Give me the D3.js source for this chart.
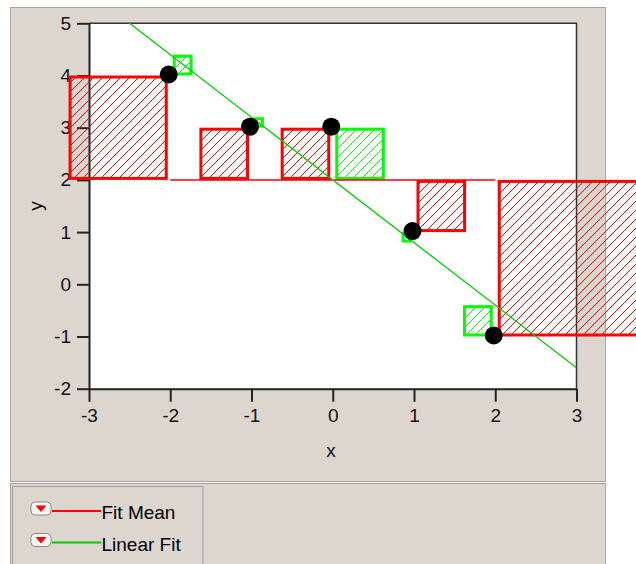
<!DOCTYPE html>
<html><head><meta charset="utf-8">
<script src="https://cdn.jsdelivr.net/npm/d3@7"></script>
<style>body{margin:0;background:#fff}svg{display:block;font-family:"Liberation Sans",Arial,sans-serif}</style>
</head><body><svg id="c" width="636" height="564"></svg>
<script>
// ---- data ----
const xValues = [-2, -1, 0, 1, 2];
const yValues = [4, 3, 3, 1, -1];
const xTickValues = [-3, -2, -1, 0, 1, 2, 3];
const yTickValues = [-2, -1, 0, 1, 2, 3, 4, 5];
const meanValue = 2;        // Fit Mean
const fitIntercept = 2;     // Linear Fit: y = 2 - 1.2x
const fitSlope = -1.2;
const legendLabels = ["Fit Mean", "Linear Fit"];
const xTitle = "x", yTitle = "y";

// ---- setup ----
const svg = d3.select("#c");
const plot = {left: 89, right: 576.5, top: 23.3, bottom: 388.7};
const x = d3.scaleLinear().domain([-3, 3]).range([plot.left, plot.right]);
const y = d3.scaleLinear().domain([-2, 5]).range([plot.bottom, plot.top]);
const RED = "#ff0000", GREEN = "#00ff00", LINEGREEN = "#00cc00", GRAY = "#ddd6cf";
const FS = 19;

const defs = svg.append("defs");
function hatch(id, color) {
  const p = defs.append("pattern").attr("id", id).attr("patternUnits", "userSpaceOnUse")
    .attr("width", 9).attr("height", 9);
  p.append("path").attr("d", "M-1,1 L1,-1 M0,9 L9,0 M8,10 L10,8")
    .attr("stroke", color).attr("stroke-width", 1).attr("fill", "none");
}
hatch("hr", RED); hatch("hg", GREEN);
defs.append("clipPath").attr("id", "pc").append("rect")
  .attr("x", plot.left).attr("y", plot.top)
  .attr("width", plot.right - plot.left).attr("height", plot.bottom - plot.top);

// ---- panels ----
svg.append("rect").attr("x", 10.5).attr("y", 7.5).attr("width", 595).attr("height", 474)
  .attr("fill", GRAY).attr("stroke", "#a9a39e");
svg.append("rect").attr("x", 10.5).attr("y", 483.5).attr("width", 595).attr("height", 82)
  .attr("fill", GRAY).attr("stroke", "#a9a39e");
svg.append("rect").attr("x", 12.5).attr("y", 486.5).attr("width", 190.5).attr("height", 80)
  .attr("fill", "none").attr("stroke", "#9d9d9d");

// plot background
svg.append("rect").attr("x", plot.left).attr("y", plot.top)
  .attr("width", plot.right - plot.left).attr("height", plot.bottom - plot.top).attr("fill", "#fff");
svg.append("path").attr("d", `M${plot.left},${plot.top}H${plot.right}V${plot.bottom}`)
  .attr("fill", "none").attr("stroke", "#333").attr("stroke-width", 1.5);

// ---- axes ----
const fmt = d => String(d);
const gx = svg.append("g").attr("transform", `translate(0,${plot.bottom})`)
  .call(d3.axisBottom(x).tickValues(xTickValues).tickFormat(fmt).tickSize(13).tickPadding(7).tickSizeOuter(0));
const gy = svg.append("g").attr("transform", `translate(${plot.left},0)`)
  .call(d3.axisLeft(y).tickValues(yTickValues).tickFormat(fmt).tickSize(12).tickPadding(6).tickSizeOuter(0));
[gx, gy].forEach(g => {
  g.select(".domain").attr("stroke", "#222").attr("stroke-width", 2);
  g.selectAll(".tick line").attr("stroke", "#222").attr("stroke-width", 2);
  g.selectAll(".tick text").attr("fill", "#111").attr("font-size", FS)
    .attr("font-family", '"Liberation Sans",Arial,sans-serif');
});

svg.append("text").attr("x", 331).attr("y", 457).attr("text-anchor", "middle")
  .attr("font-size", FS).attr("fill", "#111").text(xTitle);
svg.append("text").attr("transform", "translate(42,206) rotate(-90)").attr("text-anchor", "middle")
  .attr("font-size", FS).attr("fill", "#111").text(yTitle);

// ---- residual squares ----
const pts = xValues.map((xv, i) => ({x: xv, y: yValues[i]}));
const fit = xv => fitIntercept + fitSlope * xv;
const gap = 2.5, aspect = 0.95, sw = 3;
function square(d, ref, side) {
  const y0 = y(d.y), y1 = y(ref);
  const h = Math.abs(y1 - y0), w = h * aspect;
  const px = x(d.x);
  const left = side < 0 ? px - gap - w : px + gap;
  return {x: left, y: Math.min(y0, y1), w, h};
}
const redSq = pts.map(d => square(d, meanValue, d.x <= 0 ? -1 : 1));
const greenSq = pts.map(d => square(d, fit(d.x), d.x <= 0 ? 1 : -1));

function drawSq(data, color, pat) {
  svg.append("g").selectAll("rect").data(data).join("rect")
    .attr("x", s => s.x + sw / 2).attr("y", s => s.y + sw / 2)
    .attr("width", s => Math.max(0, s.w - sw)).attr("height", s => Math.max(0, s.h - sw))
    .attr("fill", `url(#${pat})`).attr("stroke", color).attr("stroke-width", sw);
}
drawSq(redSq, RED, "hr");
drawSq(greenSq, GREEN, "hg");

// ---- fit lines ----
const xr = d3.extent(xValues);
svg.append("line").attr("x1", x(xr[0])).attr("x2", x(xr[1]))
  .attr("y1", y(meanValue)).attr("y2", y(meanValue))
  .attr("stroke", RED).attr("stroke-width", 1.5);
svg.append("line").attr("clip-path", "url(#pc)")
  .attr("x1", x(-3)).attr("y1", y(fit(-3))).attr("x2", x(3)).attr("y2", y(fit(3)))
  .attr("stroke", LINEGREEN).attr("stroke-width", 1.3);

// ---- points ----
svg.append("g").selectAll("circle").data(pts).join("circle")
  .attr("cx", d => x(d.x) - 1.5).attr("cy", d => y(d.y) - 1).attr("r", 9).attr("fill", "#000");

// ---- legend ----
const legColors = [RED, LINEGREEN];
const lg = svg.append("g").selectAll("g").data(legendLabels).join("g")
  .attr("transform", (d, i) => `translate(0,${i * 31.5})`);
lg.append("rect").attr("x", 31).attr("y", 502).attr("width", 20).attr("height", 13).attr("rx", 4)
  .attr("fill", "#f6f6f6").attr("stroke", "#8c8c8c");
lg.append("path").attr("d", "M35.5,505.5 L46.5,505.5 L41,512 Z").attr("fill", RED);
lg.append("line").attr("x1", 52).attr("x2", 101).attr("y1", 511).attr("y2", 511)
  .attr("stroke", (d, i) => legColors[i]).attr("stroke-width", 2);
lg.append("text").attr("x", 101.5).attr("y", 519).attr("font-size", FS).attr("fill", "#000").text(d => d);
</script></body></html>
